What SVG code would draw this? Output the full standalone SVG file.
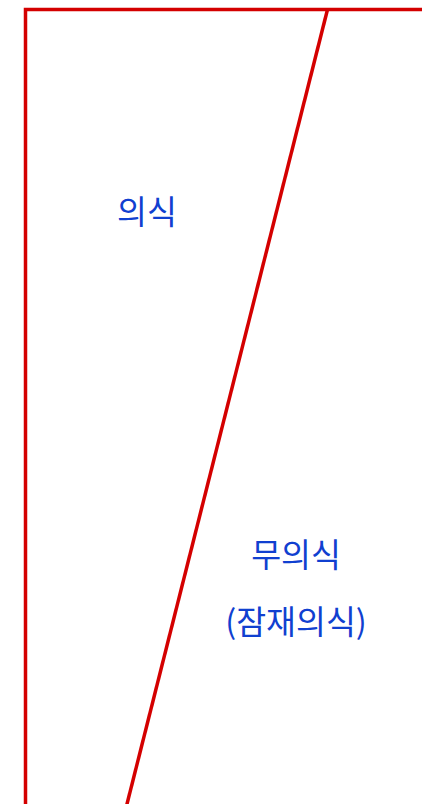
<svg xmlns="http://www.w3.org/2000/svg" width="422" height="804" viewBox="0 0 422 804">
<style>
.ln{fill:none;stroke:#d40000;stroke-width:3.5}
.lb{font-family:"Noto Sans CJK KR","Noto Sans",sans-serif;font-size:32.5px;fill:#1040d0;text-anchor:middle}
</style>
<rect width="422" height="804" fill="#ffffff"/>
<g id="connectors">
<path class="ln" d="M25.5,806 L25.5,9.5 L424,9.5"/>
<path class="ln" d="M327.5,9.5 L126.5,806"/>
</g>
<g id="conscious"><text class="lb" x="147" y="224">의식</text></g>
<g id="unconscious"><text class="lb" x="296" y="567">무의식</text><text class="lb" x="296" y="634">(잠재의식)</text></g>
</svg>
